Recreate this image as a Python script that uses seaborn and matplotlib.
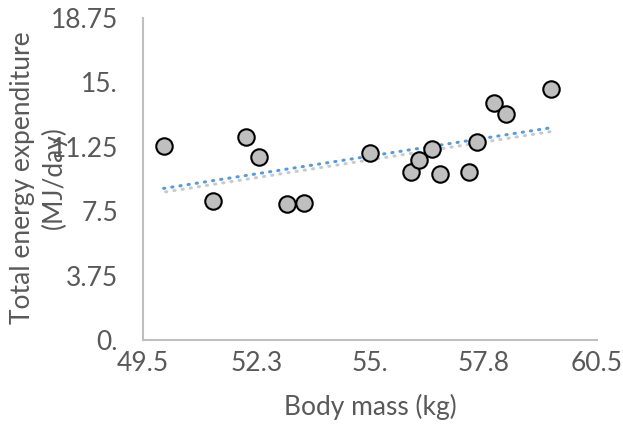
import numpy as np
import pandas as pd
import seaborn as sns
import matplotlib.pyplot as plt
import matplotlib.patheffects as pe

body_mass = [50.0, 51.2, 52.0, 52.3, 53.0, 53.4, 55.0, 56.0, 56.2, 56.5,
             56.7, 57.4, 57.6, 58.0, 58.3, 59.4]
energy = [11.3, 8.1, 11.8, 10.65, 7.9, 7.95, 10.9, 9.75, 10.45, 11.1,
          9.65, 9.75, 11.55, 13.8, 13.15, 14.6]
x_ticks = [49.5, 52.25, 55.0, 57.75, 60.5]
x_labels = ['49.5', '52.3', '55.', '57.8', '60.5']
y_ticks = [0, 3.75, 7.5, 11.25, 15.0, 18.75]
y_labels = ['0.', '3.75', '7.5', '11.25', '15.', '18.75']

df = pd.DataFrame({'mass': body_mass, 'tee': energy})

sns.set_style('white')
plt.rcParams['font.family'] = ['Lato', 'DejaVu Sans']

fig = plt.figure(figsize=(6.23, 4.25), dpi=100)
ax = fig.add_axes([0.2295, 0.2, 0.7285, 0.758])

sns.regplot(data=df, x='mass', y='tee', scatter=False, ci=None, ax=ax,
            line_kws=dict(color='#5b9bd5', lw=2.2, ls=(0, (0.4, 2.3)),
                          dash_capstyle='round', zorder=2,
                          path_effects=[pe.SimpleLineShadow(offset=(1.5, -2.5), shadow_color='#a8a8a8', alpha=0.6),
                                        pe.Normal()]))
sns.scatterplot(data=df, x='mass', y='tee', ax=ax, s=140, color='#bfbfbf',
                edgecolor='black', linewidth=1.5, zorder=3)

ax.set_xlim(49.5, 60.5)
ax.set_ylim(0, 18.75)
ax.set_xticks(x_ticks)
ax.set_xticklabels(x_labels)
ax.set_yticks(y_ticks)
ax.set_yticklabels(y_labels)
ax.tick_params(axis='both', length=0, labelsize=19, colors='#595959')
ax.tick_params(axis='y', pad=18)
ax.tick_params(axis='x', pad=8)

for side in ['top', 'right']:
    ax.spines[side].set_visible(False)
for side in ['left', 'bottom']:
    ax.spines[side].set_color('#bfbfbf')
    ax.spines[side].set_linewidth(1.5)

ax.set_xlabel('Body mass (kg)', fontsize=19, color='#595959', va='center')
ax.set_ylabel('Total energy expenditure\n(MJ/day)', fontsize=19, color='#595959',
              linespacing=1.25, va='center', ha='center')
ax.yaxis.set_label_coords(-0.23, 0.503)
ax.xaxis.set_label_coords(0.5, -0.208)

fig.savefig('out.png', dpi=100)
